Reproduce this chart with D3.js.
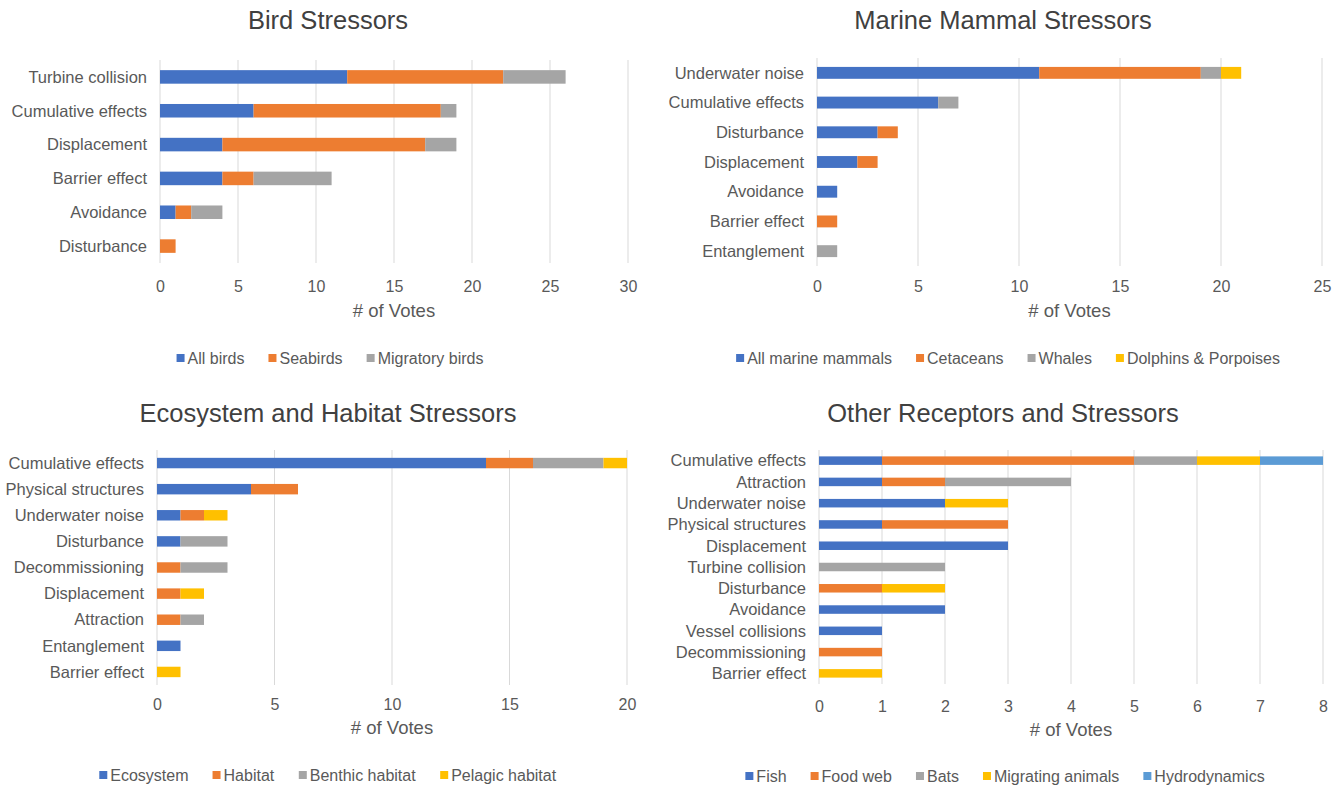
<!DOCTYPE html>
<html><head><meta charset="utf-8">
<script src="https://cdn.jsdelivr.net/npm/d3@7"></script>
<style>
body{margin:0;background:#fff;}
svg text{font-family:"Liberation Sans",Arial,sans-serif;}
</style></head>
<body><svg id="c" width="1341" height="786"></svg>
<script>
// ---- Data ----
const birdCategories = ["Turbine collision","Cumulative effects","Displacement","Barrier effect","Avoidance","Disturbance"];
const birdSeries = ["All birds","Seabirds","Migratory birds"];
const birdAll = [12,6,4,4,1,0];
const birdSea = [10,12,13,2,1,1];
const birdMig = [4,1,2,5,2,0];
const birdTicks = [0,5,10,15,20,25,30];

const marineCategories = ["Underwater noise","Cumulative effects","Disturbance","Displacement","Avoidance","Barrier effect","Entanglement"];
const marineSeries = ["All marine mammals","Cetaceans","Whales","Dolphins & Porpoises"];
const marineAll = [11,6,3,2,1,0,0];
const marineCet = [8,0,1,1,0,1,0];
const marineWhales = [1,1,0,0,0,0,1];
const marineDolphins = [1,0,0,0,0,0,0];
const marineTicks = [0,5,10,15,20,25];

const ecoCategories = ["Cumulative effects","Physical structures","Underwater noise","Disturbance","Decommissioning","Displacement","Attraction","Entanglement","Barrier effect"];
const ecoSeries = ["Ecosystem","Habitat","Benthic habitat","Pelagic habitat"];
const ecoEcosystem = [14,4,1,1,0,0,0,1,0];
const ecoHabitat = [2,2,1,0,1,1,1,0,0];
const ecoBenthic = [3,0,0,2,2,0,1,0,0];
const ecoPelagic = [1,0,1,0,0,1,0,0,1];
const ecoTicks = [0,5,10,15,20];

const otherCategories = ["Cumulative effects","Attraction","Underwater noise","Physical structures","Displacement","Turbine collision","Disturbance","Avoidance","Vessel collisions","Decommissioning","Barrier effect"];
const otherSeries = ["Fish","Food web","Bats","Migrating animals","Hydrodynamics"];
const otherFish = [1,1,2,1,3,0,0,2,1,0,0];
const otherFoodWeb = [4,1,0,2,0,0,1,0,0,1,0];
const otherBats = [1,2,0,0,0,2,0,0,0,0,0];
const otherMigrating = [1,0,1,0,0,0,1,0,0,0,1];
const otherHydro = [1,0,0,0,0,0,0,0,0,0,0];
const otherTicks = [0,1,2,3,4,5,6,7,8];

const titles = ["Bird Stressors","Marine Mammal Stressors","Ecosystem and Habitat Stressors","Other Receptors and Stressors"];
const axisTitle = "# of Votes";

// ---- Styles / layout ----
const colors = ["#4472C4","#ED7D31","#A5A5A5","#FFC000","#5B9BD5"];
const layouts = [
  {x0:160,x1:628,y0:60,y1:263,titleX:328,titleY:29,tickY:291,axY:317,legY:358,legCx:330},
  {x0:817,x1:1322,y0:58,y1:266,titleX:1003,titleY:29,tickY:291,axY:317,legY:358,legCx:1008},
  {x0:157,x1:627,y0:450,y1:685,titleX:328,titleY:422,tickY:709,axY:734,legY:775,legCx:328},
  {x0:819,x1:1323,y0:450,y1:684,titleX:1003,titleY:422,tickY:711,axY:736,legY:776,legCx:1005}
];

const panels = [
  {cats:birdCategories, series:birdSeries, values:[birdAll,birdSea,birdMig], ticks:birdTicks},
  {cats:marineCategories, series:marineSeries, values:[marineAll,marineCet,marineWhales,marineDolphins], ticks:marineTicks},
  {cats:ecoCategories, series:ecoSeries, values:[ecoEcosystem,ecoHabitat,ecoBenthic,ecoPelagic], ticks:ecoTicks},
  {cats:otherCategories, series:otherSeries, values:[otherFish,otherFoodWeb,otherBats,otherMigrating,otherHydro], ticks:otherTicks}
];

const svg = d3.select("#c");
const textCol = "#595959";

panels.forEach((p,pi)=>{
  const L = layouts[pi];
  const g = svg.append("g");
  const x = d3.scaleLinear().domain([0, d3.max(p.ticks)]).range([L.x0, L.x1]);
  const y = d3.scaleBand().domain(p.cats).range([L.y0, L.y1]).paddingInner(0.6).paddingOuter(0.3);

  // gridlines
  g.append("g").selectAll("line").data(p.ticks).join("line")
    .attr("x1",d=>x(d)).attr("x2",d=>x(d)).attr("y1",L.y0).attr("y2",L.y1)
    .attr("stroke","#d9d9d9").attr("stroke-width",1);

  // stacked bars
  const rows = p.cats.map((c,i)=>{const o={cat:c}; p.series.forEach((s,si)=>o[s]=p.values[si][i]); return o;});
  const stack = d3.stack().keys(p.series)(rows);
  g.append("g").selectAll("g").data(stack).join("g")
    .attr("fill",(d,i)=>colors[i])
    .selectAll("rect").data(d=>d).join("rect")
    .attr("x",d=>x(d[0])).attr("width",d=>x(d[1])-x(d[0]))
    .attr("y",d=>y(d.data.cat)).attr("height",y.bandwidth());

  // category labels
  g.append("g").selectAll("text").data(p.cats).join("text")
    .attr("x",L.x0-13).attr("y",d=>y(d)+y.bandwidth()/2).attr("dy","0.35em")
    .attr("text-anchor","end").attr("font-size",16.5).attr("fill",textCol).text(d=>d);

  // x axis tick labels
  const ax = d3.axisBottom(x).tickValues(p.ticks).tickSize(0).tickFormat(d3.format("d"));
  const axG = g.append("g").attr("transform",`translate(0,${L.tickY-12})`).call(ax);
  axG.select(".domain").remove();
  axG.selectAll("text").attr("font-size",16).attr("fill",textCol)
    .attr("font-family","'Liberation Sans',Arial,sans-serif").attr("y",0).attr("dy","0.8em");

  // axis title
  g.append("text").attr("x",(L.x0+L.x1)/2).attr("y",L.axY).attr("text-anchor","middle")
    .attr("font-size",18.5).attr("fill",textCol).text(axisTitle);

  // chart title
  g.append("text").attr("x",L.titleX).attr("y",L.titleY).attr("text-anchor","middle")
    .attr("font-size",25.5).attr("fill","#404040").text(titles[pi]);

  // legend
  const lg = g.append("g");
  const items = lg.selectAll("g").data(p.series).join("g");
  items.append("rect").attr("width",8).attr("height",8).attr("y",-4).attr("fill",(d,i)=>colors[i]);
  items.append("text").attr("x",11).attr("dy","0.35em").attr("font-size",16).attr("fill",textCol).text(d=>d);
  let cx = 0; const gap = 24;
  items.each(function(){
    const w = this.getBBox().width;
    d3.select(this).attr("transform",`translate(${cx},0)`);
    cx += w + gap;
  });
  const total = cx - gap;
  lg.attr("transform",`translate(${L.legCx - total/2},${L.legY})`);
});
</script></body></html>
